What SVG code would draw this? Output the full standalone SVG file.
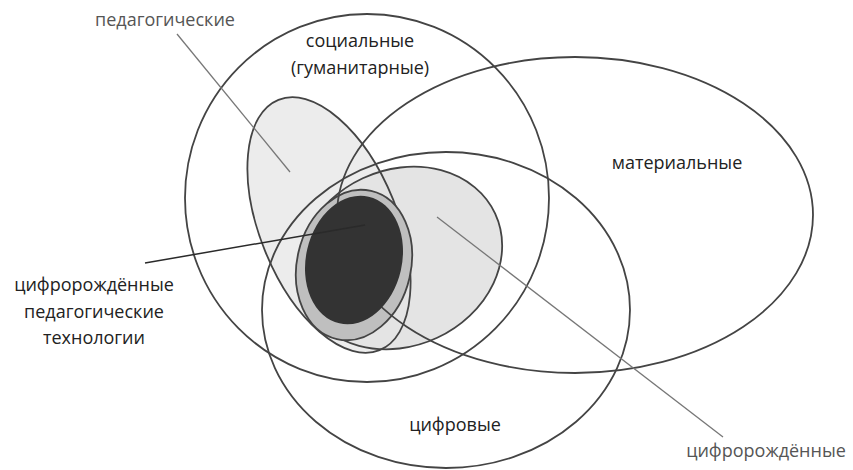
<svg xmlns="http://www.w3.org/2000/svg" xmlns:xlink="http://www.w3.org/1999/xlink" width="853" height="470" viewBox="0 0 853 470">
  <style>
    .outline { fill: none; stroke: #444; stroke-width: 1.8; }
    .lbl { font-family: "Open Sans", "Liberation Sans", sans-serif; font-size: 18px; fill: #222; text-anchor: middle; }
    .lbl-grey { fill: #555; }
    .leader { stroke: #777; stroke-width: 1.3; fill: none; }
    .leader-dark { stroke: #2a2a2a; stroke-width: 1.5; fill: none; }
  </style>
  <defs>
    <ellipse id="shape-ped" cx="329" cy="225" rx="69" ry="135" transform="rotate(-22 329 225)"/>
    <ellipse id="shape-db" cx="400" cy="258" rx="105" ry="88" transform="rotate(-25 400 258)"/>
  </defs>
  <rect width="853" height="470" fill="#ffffff"/>

  <g id="node-pedagogical">
    <use xlink:href="#shape-ped" fill="#ececec"/>
  </g>
  <g id="node-digitalborn">
    <use xlink:href="#shape-db" fill="#e4e4e4"/>
    <use xlink:href="#shape-db" class="outline"/>
    <use xlink:href="#shape-ped" class="outline"/>
  </g>
  <g id="node-intersection">
    <ellipse cx="354" cy="265" rx="57" ry="76" transform="rotate(13 354 265)" fill="#bfbfbf" stroke="#444" stroke-width="1.8"/>
  </g>
  <g id="node-social">
    <ellipse class="outline" cx="367" cy="198" rx="182" ry="184"/>
    <text class="lbl" x="360" y="47">социальные</text>
    <text class="lbl" x="360" y="74">(гуманитарные)</text>
  </g>
  <g id="node-material">
    <ellipse class="outline" cx="575" cy="215" rx="238" ry="158"/>
    <text class="lbl" x="677" y="169">материальные</text>
  </g>
  <g id="node-digital">
    <ellipse class="outline" cx="446" cy="310" rx="184" ry="158"/>
    <text class="lbl" x="455" y="431">цифровые</text>
  </g>
  <g id="node-core">
    <ellipse cx="354" cy="260" rx="48" ry="65" transform="rotate(13 354 260)" fill="#333333"/>
  </g>

  <g id="connectors">
    <line class="leader" x1="177" y1="34" x2="290" y2="172"/>
    <line class="leader-dark" x1="145" y1="263" x2="365" y2="225"/>
    <line class="leader" x1="723" y1="437" x2="437" y2="217"/>
  </g>

  <g id="labels">
    <text class="lbl lbl-grey" x="165" y="26">педагогические</text>
    <text class="lbl" x="94" y="291">цифророждённые</text>
    <text class="lbl" x="94" y="318">педагогические</text>
    <text class="lbl" x="94" y="344">технологии</text>
    <text class="lbl lbl-grey" x="766" y="457">цифророждённые</text>
  </g>
</svg>
